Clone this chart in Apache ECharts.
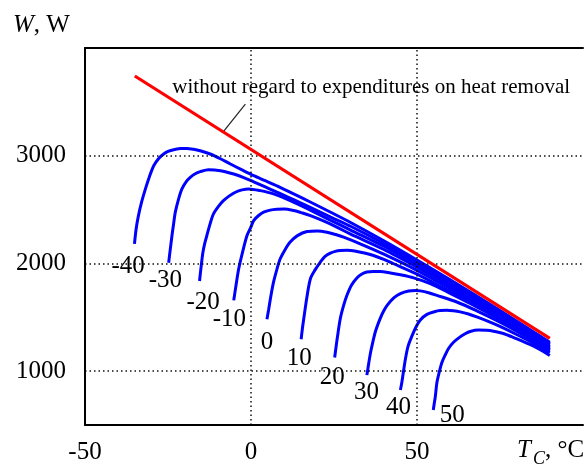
<!DOCTYPE html>
<html><head><meta charset="utf-8">
<script src="https://cdn.jsdelivr.net/npm/echarts@6/dist/echarts.min.js"></script>
<style>html,body{margin:0;padding:0;background:#fff}#c{width:585px;height:466px}</style>
</head><body><div id="c"></div>
<script>
// ---- data ----
const xTickLabels = [-50, 0, 50];
const yTickLabels = [1000, 2000, 3000];
const gridXValues = [0, 50];
const gridYValues = [1000, 2000, 3000];
const evapTemps = [-40, -30, -20, -10, 0, 10, 20, 30, 40, 50];

const redT = [-35, 90];
const redW = [3740, 1305];

const curveM40 = [[-35.1,2182],[-34.6,2320],[-33.9,2444],[-32.9,2575],[-31.8,2692],[-30.6,2805],[-29.3,2907],[-27.8,2975],[-26.3,3016],[-24.8,3042],[-23.3,3056],[-21.3,3066],[-19.3,3068],[-17.3,3060],[-15.3,3046],[-12.3,3016],[-9.2,2972],[-6.2,2923],[-2.7,2868],[0.8,2815],[4.3,2768],[8,2718],[13,2643],[18,2568],[24,2475],[30,2380],[40,2210],[50,2032],[60,1848],[75,1562],[90,1268]];
const curveM30 = [[-24.8,2006],[-24.3,2135],[-23.8,2259],[-23.3,2370],[-22.8,2476],[-21.8,2600],[-20.8,2692],[-19.5,2760],[-18.3,2800],[-16.8,2833],[-15.3,2852],[-12.8,2870],[-9.2,2861],[-5.2,2830],[-2,2795],[0.8,2758],[4.3,2710],[7.8,2661],[13,2590],[18,2518],[24,2430],[30,2345],[40,2185],[50,2012],[60,1830],[75,1550],[90,1256]];
const curveM20 = [[-15.5,1837],[-15.1,1950],[-14.5,2100],[-13.9,2190],[-13.3,2259],[-12.3,2370],[-11.3,2460],[-9.8,2530],[-8.3,2583],[-6.5,2627],[-4.7,2661],[-2.7,2683],[-0.7,2692],[2.8,2676],[6.8,2645],[12,2580],[18,2492],[24,2400],[30,2310],[40,2160],[50,1990],[60,1812],[75,1537],[90,1244]];
const curveM10 = [[-5.2,1657],[-4.5,1800],[-3.7,1951],[-2.5,2110],[-1.2,2259],[0,2340],[0.8,2398],[2.3,2445],[3.8,2476],[5.8,2495],[7.8,2503],[10,2505],[12.8,2491],[15.5,2468],[17.9,2444],[22,2392],[26,2335],[30,2272],[40,2130],[50,1966],[60,1792],[75,1524],[90,1232]];
const curveP0 = [[4.8,1481],[5.3,1570],[6,1700],[6.8,1828],[7.8,1945],[8.8,2043],[10.3,2130],[11.8,2198],[14,2258],[16.9,2296],[20,2302],[22.9,2290],[25.5,2268],[27.9,2244],[32.9,2182],[40,2086],[50,1936],[60,1766],[75,1510],[90,1222]];
const curveP10 = [[15.1,1296],[15.5,1400],[15.9,1488],[16.8,1680],[17.9,1858],[19.3,1940],[20.9,2013],[22.3,2065],[23.9,2096],[25.4,2112],[26.9,2120],[29,2122],[31.9,2111],[34.5,2094],[36.9,2074],[40,2038],[43,1997],[50,1900],[60,1738],[75,1495],[90,1212]];
const curveP20 = [[25.2,1127],[25.6,1220],[26,1310],[26.9,1488],[27.9,1610],[28.9,1704],[30.3,1800],[31.9,1865],[33.3,1900],[34.9,1920],[36.9,1926],[38.9,1926],[42,1912],[45,1895],[49,1866],[54,1812],[60,1722],[66,1628],[75,1478],[82,1360],[90,1200]];
const curveP30 = [[34.9,963],[35.3,1040],[35.6,1100],[36,1170],[36.4,1230],[37.5,1370],[38.9,1488],[40,1560],[41,1611],[43,1680],[45,1720],[47.5,1744],[49.5,1749],[51,1745],[53.5,1728],[56,1704],[62,1642],[68,1560],[75,1455],[82,1337],[90,1188]];
const curveP40 = [[45,825],[45.4,890],[45.8,970],[46.5,1111],[47.3,1230],[48.5,1327],[49.7,1410],[51,1475],[53,1527],[55.5,1554],[57,1562],[59,1565],[61,1560],[63,1550],[65.5,1530],[68,1503],[72,1455],[75,1415],[80,1340],[85,1260],[90,1170]];
const curveP50 = [[54.9,639],[55.2,700],[55.5,760],[56,895],[56.7,990],[57.5,1080],[58.5,1150],[59.5,1210],[61,1268],[63,1318],[64.5,1347],[66,1368],[68.5,1381],[71,1380],[73.5,1368],[76,1349],[78.5,1320],[81,1287],[84,1248],[87,1202],[90,1145]];

const labelT = [-37.0, -25.8, -14.4, -6.5, 4.8, 14.5, 24.5, 34.8, 44.4, 60.6];
const labelW = [1975, 1845, 1641, 1484, 1271, 1114, 938, 800, 661, 590];

const noteText = 'without regard to expenditures on heat removal';
const noteAnchorT = -24.6;
const noteAnchorW = 3636;
const leaderT = [-1.7, -8.25];
const leaderW = [3479, 3225];

// ---- chart ----
const FONT = '"Liberation Serif", "Times New Roman", serif';
const curves = [curveM40, curveM30, curveM20, curveM10, curveP0, curveP10, curveP20, curveP30, curveP40, curveP50];

const chart = echarts.init(document.getElementById('c'), null, {renderer: 'canvas'});

const series = [];
series.push({
  type: 'line', data: [], z: 1, silent: true,
  markLine: {
    silent: true, symbol: 'none', animation: false,
    label: {show: false},
    lineStyle: {color: '#111', type: [1.5, 3], width: 1.5},
    data: gridYValues.map(v => ({yAxis: v})).concat(gridXValues.map(v => ({xAxis: v})))
  }
});
curves.forEach((c, i) => {
  series.push({
    type: 'line', name: String(evapTemps[i]), data: c, showSymbol: false, smooth: 0.3,
    lineStyle: {color: '#0000ff', width: 3}, z: 3, silent: true, animation: false
  });
});
series.push({
  type: 'scatter', symbolSize: 0, z: 4, silent: true, animation: false,
  itemStyle: {opacity: 1},
  data: evapTemps.map((t, i) => ({value: [labelT[i], labelW[i]], name: String(t)})),
  label: {
    show: true, position: 'inside', formatter: p => p.name,
    fontFamily: FONT, fontSize: 25, color: '#000', lineHeight: 20,
    backgroundColor: '#fff', padding: [0, 2]
  }
});
series.push({
  type: 'scatter', symbolSize: 0, z: 4, silent: true, animation: false,
  itemStyle: {opacity: 1},
  data: [{value: [noteAnchorT, noteAnchorW], name: noteText}],
  label: {
    show: true, position: 'right', distance: 0, formatter: p => p.name,
    fontFamily: FONT, fontSize: 21, color: '#000',
    backgroundColor: '#fff', padding: [7, 3]
  }
});
series.push({
  type: 'line', data: leaderT.map((t, i) => [t, leaderW[i]]), showSymbol: false,
  lineStyle: {color: '#222', width: 1.2}, z: 5, silent: true, animation: false
});
series.push({
  type: 'line', data: redT.map((t, i) => [t, redW[i]]), showSymbol: false,
  lineStyle: {color: '#ff0000', width: 3.2}, z: 6, silent: true, animation: false
});

const option = {
  animation: false,
  backgroundColor: '#fff',
  textStyle: {fontFamily: FONT},
  grid: {left: 85, right: 2, top: 48, bottom: 41, containLabel: false, outerBoundsMode: 'none'},
  xAxis: [{
    type: 'value', min: -50, max: 100, interval: 50, z: 10,
    axisLine: {show: true, onZero: false, lineStyle: {color: '#000', width: 2}},
    axisTick: {show: false}, splitLine: {show: false},
    axisLabel: {
      margin: 15, fontSize: 25, color: '#000', fontFamily: FONT,
      formatter: v => xTickLabels.includes(v) ? String(v) : ''
    }
  }, {
    type: 'value', position: 'top', min: -50, max: 100, interval: 50, z: 10,
    axisLine: {show: true, onZero: false, lineStyle: {color: '#000', width: 2}},
    axisTick: {show: false}, splitLine: {show: false}, axisLabel: {show: false}
  }],
  yAxis: {
    type: 'value', min: 500, max: 4000, interval: 500, z: 10,
    axisLine: {show: true, onZero: false, lineStyle: {color: '#000', width: 2}},
    axisTick: {show: false}, splitLine: {show: false},
    axisLabel: {
      margin: 19, fontSize: 25, color: '#000', fontFamily: FONT,
      formatter: v => yTickLabels.includes(v) ? String(v) : ''
    }
  },
  graphic: [
    {type: 'text', left: 13, top: 13, style: {
      text: '{i|W}{n|, W}',
      rich: {i: {fontFamily: FONT, fontStyle: 'italic', fontSize: 25, fill: '#000'},
             n: {fontFamily: FONT, fontSize: 25, fill: '#000'}}
    }},
    {type: 'text', x: 517, y: 438, style: {text: 'T', font: 'italic 25px ' + FONT, fill: '#000'}},
    {type: 'text', x: 533, y: 450, style: {text: 'C', font: 'italic 18px ' + FONT, fill: '#000'}},
    {type: 'text', x: 545, y: 438, style: {text: ', \u00b0C', font: '25px ' + FONT, fill: '#000'}}
  ],
  series: series
};
chart.setOption(option);
</script></body></html>
